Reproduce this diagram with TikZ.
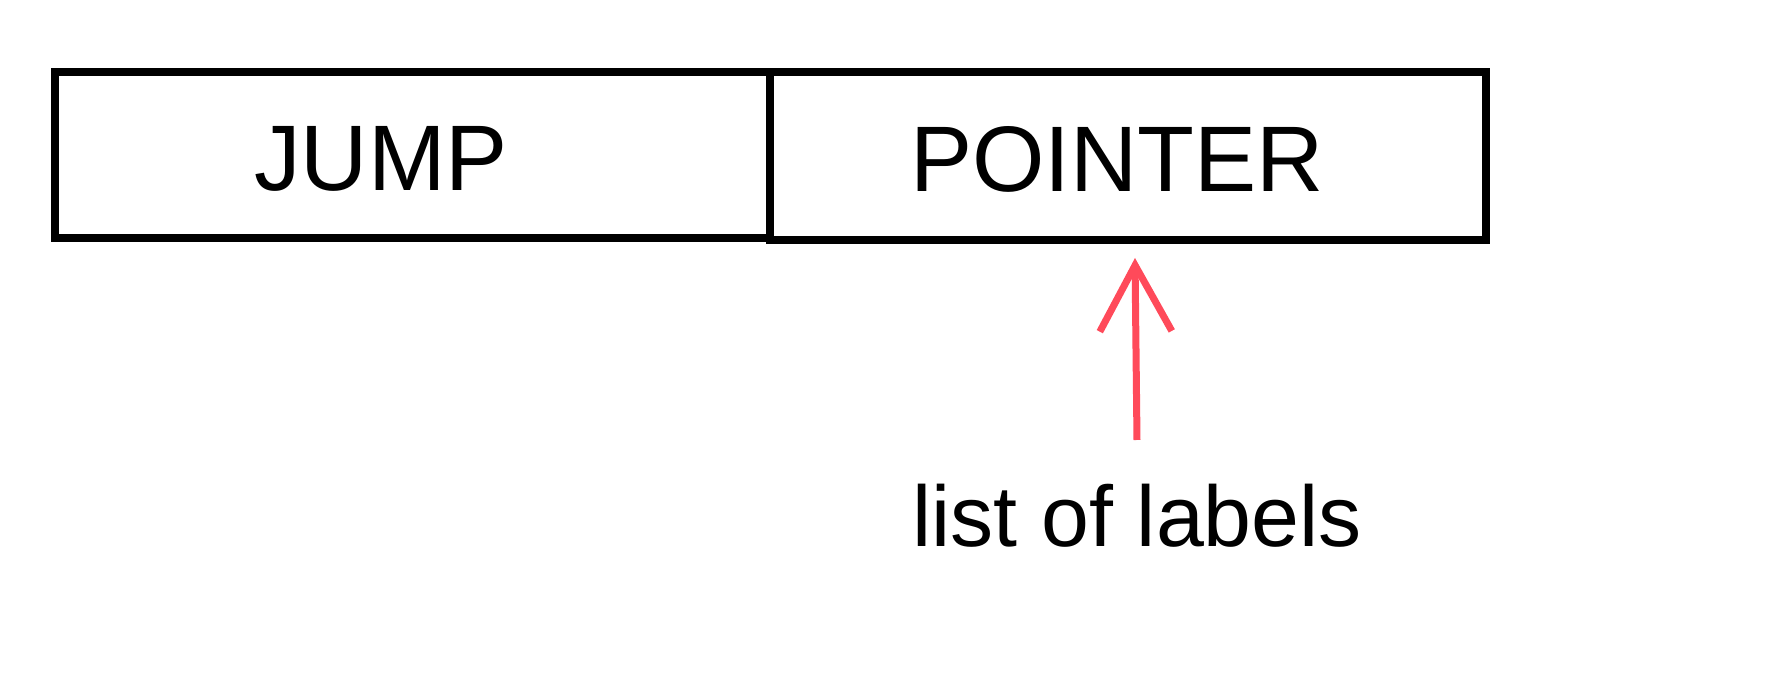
\documentclass[tikz,border=0pt]{standalone}
\usepackage{fontspec}
\setmainfont{Liberation Sans}
\usetikzlibrary{arrows.meta}
\definecolor{arrowred}{RGB}{255,74,90}
\tikzset{
	field/.style={draw, line width=0.08cm, minimum height=1.66cm, inner sep=0pt},
	word/.style={font=\fontsize{26.5}{30}\selectfont, inner sep=0pt}
}
\begin{document}
\begin{tikzpicture}
	\useasboundingbox (0,0) rectangle (17.71,6.84);
	
	% instruction fields
	\node[field, minimum width=7.15cm] (jump) at (4.125,5.29) {};
	\node[field, minimum width=7.16cm, minimum height=1.68cm] (pointer) at (11.28,5.28) {};
	\node[word] (jumptext) at (3.81,5.25) {JUMP};
	\node[word] (pointertext) at (11.17,5.25) {POINTER};
	
	% label list
	\node[word, font=\fontsize{24.5}{28}\selectfont] (labels) at (11.37,1.68) {list of labels};
	\coordinate (tail) at (11.37,2.44);
	\coordinate (tip) at (11.35,4.26);
	\draw[arrowred, line width=0.07cm, -{Straight Barb[length=0.66cm, width=0.72cm, line width=0.07cm]}] (tail) -- (tip);
\end{tikzpicture}
\end{document}
